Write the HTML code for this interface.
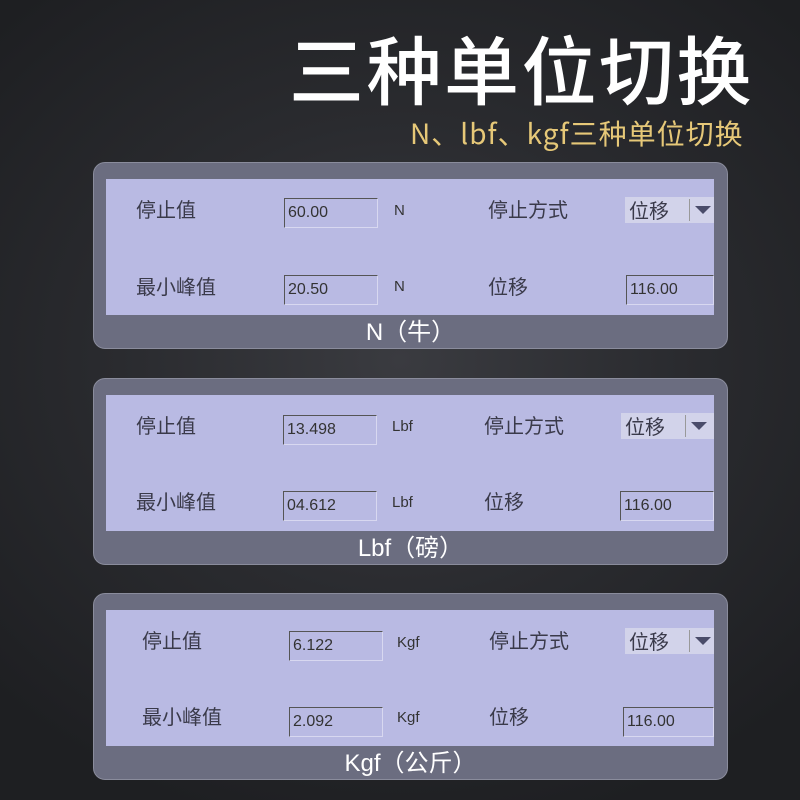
<!DOCTYPE html>
<html><head><meta charset="utf-8"><style>
*{margin:0;padding:0;box-sizing:border-box}
body{width:800px;height:800px;overflow:hidden;background:radial-gradient(ellipse 70% 60% at 50% 45%,#3a3b40 0%,#2a2b2f 50%,#1e1f22 100%);font-family:"Liberation Sans","Noto Sans CJK SC",sans-serif;position:relative}
.a{position:absolute;white-space:nowrap}
.title{left:289px;top:22px;font-size:75px;color:#fff;font-family:"Noto Sans CJK SC",sans-serif;font-weight:500;letter-spacing:2.5px;line-height:90px}
.sub{left:410px;top:113px;font-size:28px;color:#e6c878;font-family:"Noto Sans CJK SC",sans-serif;line-height:40px;letter-spacing:1px}
.panel{position:absolute;left:93px;width:635px;height:187px;border-radius:12px;background:#6b6d80;border:1.5px solid #8a8c9c}
.scr{position:absolute;left:12px;top:16px;width:608px;height:136px;background:#b9bae3}
.lb{position:absolute;font-size:20px;color:#3a3a4a;font-family:"Noto Sans CJK SC",sans-serif;line-height:24px}
.box{position:absolute;width:94px;height:30px;border-top:1.5px solid #555;border-left:1.5px solid #555;border-right:1px solid #d8d8f0;border-bottom:1px solid #d8d8f0;font-size:16px;color:#333;padding:5px 0 0 3px;font-family:"Liberation Sans",sans-serif}
.u{position:absolute;font-size:15px;color:#333;line-height:20px}
.dd{position:absolute;left:519px;top:18px;width:89px;height:26px;background:#d2d3ea;font-size:20px;color:#3a3a4a;font-family:"Noto Sans CJK SC",sans-serif;line-height:26px;padding-left:4px}
.dd i{position:absolute;left:64px;top:2px;width:1px;height:22px;background:#999}
.dd b{position:absolute;left:70px;top:9px;border-left:8px solid transparent;border-right:8px solid transparent;border-top:8px solid #4a4c6a}
.cap{position:absolute;left:0;width:100%;top:153px;text-align:center;color:#fff;font-size:24px;line-height:34px;font-family:"Liberation Sans","Noto Sans CJK SC",sans-serif}
</style></head><body>
<div class="a title">三种单位切换</div>
<div class="a sub">N、lbf、kgf三种单位切换</div>

<div class="panel" style="top:162px"><div class="scr">
<div class="lb" style="left:30px;top:18px">停止值</div>
<div class="box" style="left:178px;top:19px">60.00</div>
<div class="u" style="left:288px;top:22px">N</div>
<div class="lb" style="left:382px;top:18px">停止方式</div>
<div class="dd">位移<i></i><b></b></div>
<div class="lb" style="left:30px;top:95px">最小峰值</div>
<div class="box" style="left:178px;top:96px">20.50</div>
<div class="u" style="left:288px;top:98px">N</div>
<div class="lb" style="left:382px;top:95px">位移</div>
<div class="box" style="left:520px;top:96px;width:88px">116.00</div>
</div><div class="cap">N（牛）</div></div>

<div class="panel" style="top:378px"><div class="scr">
<div class="lb" style="left:30px;top:18px">停止值</div>
<div class="box" style="left:177px;top:20px">13.498</div>
<div class="u" style="left:286px;top:22px">Lbf</div>
<div class="lb" style="left:378px;top:18px">停止方式</div>
<div class="dd" style="left:515px;width:93px">位移<i></i><b></b></div>
<div class="lb" style="left:30px;top:94px">最小峰值</div>
<div class="box" style="left:177px;top:96px">04.612</div>
<div class="u" style="left:286px;top:98px">Lbf</div>
<div class="lb" style="left:378px;top:94px">位移</div>
<div class="box" style="left:514px;top:96px;width:94px">116.00</div>
</div><div class="cap">Lbf（磅）</div></div>

<div class="panel" style="top:593px"><div class="scr">
<div class="lb" style="left:36px;top:18px">停止值</div>
<div class="box" style="left:183px;top:21px">6.122</div>
<div class="u" style="left:291px;top:23px">Kgf</div>
<div class="lb" style="left:383px;top:18px">停止方式</div>
<div class="dd">位移<i></i><b></b></div>
<div class="lb" style="left:36px;top:94px">最小峰值</div>
<div class="box" style="left:183px;top:97px">2.092</div>
<div class="u" style="left:291px;top:98px">Kgf</div>
<div class="lb" style="left:383px;top:94px">位移</div>
<div class="box" style="left:517px;top:97px;width:91px">116.00</div>
</div><div class="cap">Kgf（公斤）</div></div>
</body></html>
